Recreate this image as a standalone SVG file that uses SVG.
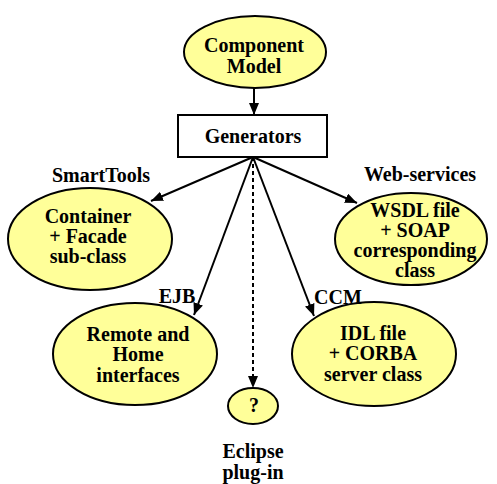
<svg xmlns="http://www.w3.org/2000/svg" width="497" height="484" viewBox="0 0 497 484">
<style>
.node ellipse{fill:#ffff99;stroke:#000;stroke-width:2}
.node rect{fill:#fff;stroke:#000;stroke-width:2}
text{font-family:"Liberation Serif","Times New Roman",serif;font-weight:bold;font-size:20px;fill:#000;text-anchor:middle}
.edge{stroke:#000;stroke-width:2;fill:none;marker-end:url(#arr)}
.dash{stroke-dasharray:4,3}
</style>
<defs>
<marker id="arr" markerUnits="userSpaceOnUse" markerWidth="13" markerHeight="11" refX="12" refY="5" orient="auto">
<path d="M0,0 L12,5 L0,10 z" fill="#000"/>
</marker>
</defs>
<rect width="497" height="484" fill="#fff"/>
<g id="connectors">
<line class="edge" x1="254" y1="88" x2="254" y2="115"/>
<line class="edge" x1="253" y1="157" x2="151" y2="201"/>
<line class="edge" x1="253" y1="157" x2="357" y2="203"/>
<line class="edge" x1="253" y1="157" x2="194" y2="315"/>
<line class="edge" x1="253" y1="157" x2="314" y2="316"/>
<line class="edge dash" x1="253" y1="157" x2="253" y2="388"/>
</g>
<g id="component-model" class="node">
<ellipse cx="255" cy="52" rx="71" ry="36"/>
<text x="254" y="52">Component</text>
<text x="254" y="73">Model</text>
</g>
<g id="generators" class="node">
<rect x="178" y="115" width="149" height="42"/>
<text x="253" y="143">Generators</text>
</g>
<g id="smarttools" class="node">
<ellipse cx="90" cy="239" rx="82" ry="51"/>
<text x="88" y="223">Container</text>
<text x="88" y="243">+ Facade</text>
<text x="88" y="263">sub-class</text>
</g>
<g id="webservices" class="node">
<ellipse cx="411" cy="239" rx="76" ry="46"/>
<text x="415" y="217">WSDL file</text>
<text x="415" y="237">+ SOAP</text>
<text x="415" y="257">corresponding</text>
<text x="415" y="277">class</text>
</g>
<g id="ejb" class="node">
<ellipse cx="135" cy="354" rx="82" ry="51"/>
<text x="138" y="341">Remote and</text>
<text x="138" y="361">Home</text>
<text x="138" y="382">interfaces</text>
</g>
<g id="ccm" class="node">
<ellipse cx="374" cy="354" rx="82" ry="52"/>
<text x="373" y="340">IDL file</text>
<text x="373" y="360">+ CORBA</text>
<text x="373" y="381">server class</text>
</g>
<g id="eclipse" class="node">
<ellipse cx="253" cy="406" rx="25" ry="18"/>
<text x="254" y="412">?</text>
</g>
<g id="labels">
<text x="101" y="182">SmartTools</text>
<text x="420" y="181">Web-services</text>
<text x="177" y="303">EJB</text>
<text x="338" y="304">CCM</text>
<text x="253" y="458">Eclipse</text>
<text x="253" y="479">plug-in</text>
</g>
</svg>
